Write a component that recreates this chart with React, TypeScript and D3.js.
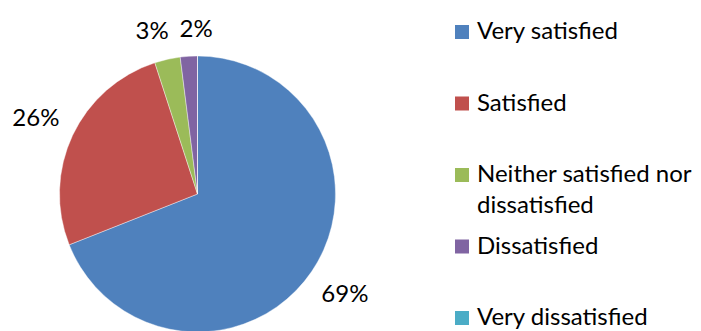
import React, { useEffect } from "react";
import * as d3 from "d3";

const categories = [
  "Very satisfied",
  "Satisfied",
  "Neither satisfied nor dissatisfied",
  "Dissatisfied",
  "Very dissatisfied",
];
const shares = [69, 26, 3, 2, 0];
const legendLines = [
  ["Very satisfied"],
  ["Satisfied"],
  ["Neither satisfied nor", "dissatisfied"],
  ["Dissatisfied"],
  ["Very dissatisfied"],
];
const colors = ["#4F81BD", "#C0504D", "#9BBB59", "#8064A2", "#4BACC6"];

const W = 701;
const H = 331;
const FONT = "Lato, 'Open Sans', sans-serif";

type LabelBox = { text: string; x: number; y: number; hw: number; hh: number };

export default function App() {
  useEffect(() => {
    document.body.style.margin = "0";
  }, []);

  const cx = 197.5;
  const cy = 194;
  const r = 138;

  const pie = d3
    .pie<number>()
    .sort(null)
    .value((d) => d)
    .startAngle(0)
    .endAngle(2 * Math.PI);
  const arcs = pie(shares);
  const arcGen = d3.arc<d3.PieArcDatum<number>>().innerRadius(0).outerRadius(r);

  const fontSize = 24;
  const capHalf = 8;

  // Outside-end data labels: place each box just beyond the rim along its mid-angle
  const labels: LabelBox[] = [];
  arcs.forEach((a) => {
    if (a.data <= 0) return;
    const mid = (a.startAngle + a.endAngle) / 2;
    const dx = Math.sin(mid);
    const dy = -Math.cos(mid);
    const text = `${a.data}%`;
    const hw = text.length === 3 ? 22.5 : 15;
    const hh = 10;
    const dist = r + 16 + Math.abs(dx) * hw + Math.abs(dy) * hh;
    labels.push({ text, x: dx * dist, y: dy * dist, hw, hh });
  });
  // Push overlapping neighbours apart horizontally
  const sep = 14;
  for (let i = 1; i < labels.length; i++) {
    const a = labels[i - 1];
    const b = labels[i];
    const vOverlap = Math.abs(a.y - b.y) < a.hh + b.hh;
    if (!vOverlap) continue;
    const left = a.x <= b.x ? a : b;
    const right = left === a ? b : a;
    const need = left.x + left.hw + sep - (right.x - right.hw);
    if (need > 0) {
      left.x -= need / 2;
      right.x += need / 2;
    }
  }

  // legend rows: evenly spaced baselines for each entry's first line
  const legendY = d3
    .scaleLinear()
    .domain([0, categories.length - 1])
    .range([39, 325]);
  const lineGap = 31;

  return (
    <svg width={W} height={H} style={{ display: "block", background: "#fff" }}>
      <g transform={`translate(${cx},${cy})`}>
        {arcs.map((a, i) => (
          <path
            key={categories[i]}
            d={arcGen(a) || ""}
            fill={colors[i]}
            stroke="#ffffff"
            strokeWidth={0.4}
          />
        ))}
        {labels.map((l) => (
          <text
            key={l.text}
            x={l.x}
            y={l.y + capHalf}
            textAnchor="middle"
            fontFamily={FONT}
            fontSize={fontSize}
            fill="#000"
          >
            {l.text}
          </text>
        ))}
      </g>
      <g>
        {legendLines.map((lines, i) => {
          const base = legendY(i);
          return (
            <g key={categories[i]}>
              <rect x={455} y={base - 14} width={14} height={14} fill={colors[i]} />
              {lines.map((t, j) => (
                <text
                  key={t}
                  x={477}
                  y={base + j * lineGap}
                  fontFamily={FONT}
                  fontSize={fontSize}
                  fill="#000"
                >
                  {t}
                </text>
              ))}
            </g>
          );
        })}
      </g>
    </svg>
  );
}
